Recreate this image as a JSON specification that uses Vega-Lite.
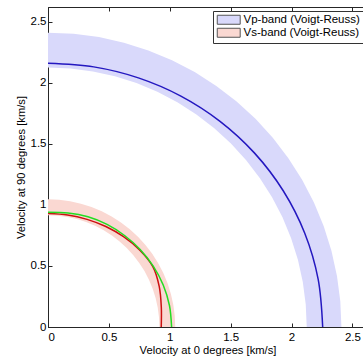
{
  "$schema": "https://vega.github.io/schema/vega-lite/v6.json",
  "width": 319,
  "height": 320,
  "autosize": {"type": "none"},
  "padding": {"left": 48, "top": 7, "right": 0, "bottom": 35},
  "config": {
    "font": "Liberation Sans",
    "view": {"stroke": "#262626", "strokeWidth": 1},
    "axis": {
      "grid": false,
      "domainColor": "#262626",
      "tickColor": "#262626",
      "tickSize": -4,
      "labelFontSize": 11.5,
      "labelColor": "#000000",
      "titleFontSize": 11.2,
      "titleFontWeight": "normal",
      "titleColor": "#000000"
    }
  },
  "datasets": {
    "bands": [
      {"s": "Vp-band (Voigt-Reuss)", "i": 0, "x": 2.41, "y": 0},
      {"s": "Vp-band (Voigt-Reuss)", "i": 1, "x": 2.4008, "y": 0.2101},
      {"s": "Vp-band (Voigt-Reuss)", "i": 2, "x": 2.3734, "y": 0.4185},
      {"s": "Vp-band (Voigt-Reuss)", "i": 3, "x": 2.3279, "y": 0.6238},
      {"s": "Vp-band (Voigt-Reuss)", "i": 4, "x": 2.2647, "y": 0.8243},
      {"s": "Vp-band (Voigt-Reuss)", "i": 5, "x": 2.1842, "y": 1.0185},
      {"s": "Vp-band (Voigt-Reuss)", "i": 6, "x": 2.0871, "y": 1.205},
      {"s": "Vp-band (Voigt-Reuss)", "i": 7, "x": 1.9742, "y": 1.3823},
      {"s": "Vp-band (Voigt-Reuss)", "i": 8, "x": 1.8462, "y": 1.5491},
      {"s": "Vp-band (Voigt-Reuss)", "i": 9, "x": 1.7041, "y": 1.7041},
      {"s": "Vp-band (Voigt-Reuss)", "i": 10, "x": 1.5491, "y": 1.8462},
      {"s": "Vp-band (Voigt-Reuss)", "i": 11, "x": 1.3823, "y": 1.9742},
      {"s": "Vp-band (Voigt-Reuss)", "i": 12, "x": 1.205, "y": 2.0871},
      {"s": "Vp-band (Voigt-Reuss)", "i": 13, "x": 1.0185, "y": 2.1842},
      {"s": "Vp-band (Voigt-Reuss)", "i": 14, "x": 0.8243, "y": 2.2647},
      {"s": "Vp-band (Voigt-Reuss)", "i": 15, "x": 0.6238, "y": 2.3279},
      {"s": "Vp-band (Voigt-Reuss)", "i": 16, "x": 0.4185, "y": 2.3734},
      {"s": "Vp-band (Voigt-Reuss)", "i": 17, "x": 0.2101, "y": 2.4008},
      {"s": "Vp-band (Voigt-Reuss)", "i": 18, "x": 0, "y": 2.41},
      {"s": "Vp-band (Voigt-Reuss)", "i": 19, "x": 0, "y": 2.125},
      {"s": "Vp-band (Voigt-Reuss)", "i": 20, "x": 0.1852, "y": 2.1169},
      {"s": "Vp-band (Voigt-Reuss)", "i": 21, "x": 0.369, "y": 2.0927},
      {"s": "Vp-band (Voigt-Reuss)", "i": 22, "x": 0.55, "y": 2.0526},
      {"s": "Vp-band (Voigt-Reuss)", "i": 23, "x": 0.7268, "y": 1.9968},
      {"s": "Vp-band (Voigt-Reuss)", "i": 24, "x": 0.8981, "y": 1.9259},
      {"s": "Vp-band (Voigt-Reuss)", "i": 25, "x": 1.0625, "y": 1.8403},
      {"s": "Vp-band (Voigt-Reuss)", "i": 26, "x": 1.2189, "y": 1.7407},
      {"s": "Vp-band (Voigt-Reuss)", "i": 27, "x": 1.3659, "y": 1.6278},
      {"s": "Vp-band (Voigt-Reuss)", "i": 28, "x": 1.5026, "y": 1.5026},
      {"s": "Vp-band (Voigt-Reuss)", "i": 29, "x": 1.6278, "y": 1.3659},
      {"s": "Vp-band (Voigt-Reuss)", "i": 30, "x": 1.7407, "y": 1.2189},
      {"s": "Vp-band (Voigt-Reuss)", "i": 31, "x": 1.8403, "y": 1.0625},
      {"s": "Vp-band (Voigt-Reuss)", "i": 32, "x": 1.9259, "y": 0.8981},
      {"s": "Vp-band (Voigt-Reuss)", "i": 33, "x": 1.9968, "y": 0.7268},
      {"s": "Vp-band (Voigt-Reuss)", "i": 34, "x": 2.0526, "y": 0.55},
      {"s": "Vp-band (Voigt-Reuss)", "i": 35, "x": 2.0927, "y": 0.369},
      {"s": "Vp-band (Voigt-Reuss)", "i": 36, "x": 2.1169, "y": 0.1852},
      {"s": "Vp-band (Voigt-Reuss)", "i": 37, "x": 2.125, "y": 0},
      {"s": "Vs-band (Voigt-Reuss)", "i": 0, "x": 1.045, "y": 0},
      {"s": "Vs-band (Voigt-Reuss)", "i": 1, "x": 1.041, "y": 0.0911},
      {"s": "Vs-band (Voigt-Reuss)", "i": 2, "x": 1.0291, "y": 0.1815},
      {"s": "Vs-band (Voigt-Reuss)", "i": 3, "x": 1.0094, "y": 0.2705},
      {"s": "Vs-band (Voigt-Reuss)", "i": 4, "x": 0.982, "y": 0.3574},
      {"s": "Vs-band (Voigt-Reuss)", "i": 5, "x": 0.9471, "y": 0.4416},
      {"s": "Vs-band (Voigt-Reuss)", "i": 6, "x": 0.905, "y": 0.5225},
      {"s": "Vs-band (Voigt-Reuss)", "i": 7, "x": 0.856, "y": 0.5994},
      {"s": "Vs-band (Voigt-Reuss)", "i": 8, "x": 0.8005, "y": 0.6717},
      {"s": "Vs-band (Voigt-Reuss)", "i": 9, "x": 0.7389, "y": 0.7389},
      {"s": "Vs-band (Voigt-Reuss)", "i": 10, "x": 0.6717, "y": 0.8005},
      {"s": "Vs-band (Voigt-Reuss)", "i": 11, "x": 0.5994, "y": 0.856},
      {"s": "Vs-band (Voigt-Reuss)", "i": 12, "x": 0.5225, "y": 0.905},
      {"s": "Vs-band (Voigt-Reuss)", "i": 13, "x": 0.4416, "y": 0.9471},
      {"s": "Vs-band (Voigt-Reuss)", "i": 14, "x": 0.3574, "y": 0.982},
      {"s": "Vs-band (Voigt-Reuss)", "i": 15, "x": 0.2705, "y": 1.0094},
      {"s": "Vs-band (Voigt-Reuss)", "i": 16, "x": 0.1815, "y": 1.0291},
      {"s": "Vs-band (Voigt-Reuss)", "i": 17, "x": 0.0911, "y": 1.041},
      {"s": "Vs-band (Voigt-Reuss)", "i": 18, "x": 0, "y": 1.045},
      {"s": "Vs-band (Voigt-Reuss)", "i": 19, "x": 0, "y": 0.915},
      {"s": "Vs-band (Voigt-Reuss)", "i": 20, "x": 0.0798, "y": 0.9115},
      {"s": "Vs-band (Voigt-Reuss)", "i": 21, "x": 0.1589, "y": 0.9011},
      {"s": "Vs-band (Voigt-Reuss)", "i": 22, "x": 0.2368, "y": 0.8838},
      {"s": "Vs-band (Voigt-Reuss)", "i": 23, "x": 0.3129, "y": 0.8598},
      {"s": "Vs-band (Voigt-Reuss)", "i": 24, "x": 0.3867, "y": 0.8293},
      {"s": "Vs-band (Voigt-Reuss)", "i": 25, "x": 0.4575, "y": 0.7924},
      {"s": "Vs-band (Voigt-Reuss)", "i": 26, "x": 0.5248, "y": 0.7495},
      {"s": "Vs-band (Voigt-Reuss)", "i": 27, "x": 0.5882, "y": 0.7009},
      {"s": "Vs-band (Voigt-Reuss)", "i": 28, "x": 0.647, "y": 0.647},
      {"s": "Vs-band (Voigt-Reuss)", "i": 29, "x": 0.7009, "y": 0.5882},
      {"s": "Vs-band (Voigt-Reuss)", "i": 30, "x": 0.7495, "y": 0.5248},
      {"s": "Vs-band (Voigt-Reuss)", "i": 31, "x": 0.7924, "y": 0.4575},
      {"s": "Vs-band (Voigt-Reuss)", "i": 32, "x": 0.8293, "y": 0.3867},
      {"s": "Vs-band (Voigt-Reuss)", "i": 33, "x": 0.8598, "y": 0.3129},
      {"s": "Vs-band (Voigt-Reuss)", "i": 34, "x": 0.8838, "y": 0.2368},
      {"s": "Vs-band (Voigt-Reuss)", "i": 35, "x": 0.9011, "y": 0.1589},
      {"s": "Vs-band (Voigt-Reuss)", "i": 36, "x": 0.9115, "y": 0.0798},
      {"s": "Vs-band (Voigt-Reuss)", "i": 37, "x": 0.915, "y": 0}
    ],
    "curves": [
      {"s": "Vp", "i": 0, "x": 2.256, "y": 0},
      {"s": "Vp", "i": 1, "x": 2.2187, "y": 0.3912},
      {"s": "Vp", "i": 2, "x": 2.1088, "y": 0.7675},
      {"s": "Vp", "i": 3, "x": 1.9319, "y": 1.1154},
      {"s": "Vp", "i": 4, "x": 1.6966, "y": 1.4236},
      {"s": "Vp", "i": 5, "x": 1.4129, "y": 1.6838},
      {"s": "Vp", "i": 6, "x": 1.0914, "y": 1.8904},
      {"s": "Vp", "i": 7, "x": 0.7424, "y": 2.0397},
      {"s": "Vp", "i": 8, "x": 0.3756, "y": 2.1298},
      {"s": "Vp", "i": 9, "x": 0, "y": 2.16},
      {"s": "Vs1", "i": 0, "x": 0.93, "y": 0},
      {"s": "Vs1", "i": 1, "x": 0.9306, "y": 0.1641},
      {"s": "Vs1", "i": 2, "x": 0.9134, "y": 0.3324},
      {"s": "Vs1", "i": 3, "x": 0.86, "y": 0.4965},
      {"s": "Vs1", "i": 4, "x": 0.7523, "y": 0.6312},
      {"s": "Vs1", "i": 5, "x": 0.6203, "y": 0.7392},
      {"s": "Vs1", "i": 6, "x": 0.475, "y": 0.8227},
      {"s": "Vs1", "i": 7, "x": 0.3208, "y": 0.8814},
      {"s": "Vs1", "i": 8, "x": 0.1618, "y": 0.9178},
      {"s": "Vs1", "i": 9, "x": 0, "y": 0.93},
      {"s": "Vs2", "i": 0, "x": 1.015, "y": 0},
      {"s": "Vs2", "i": 1, "x": 0.9976, "y": 0.1759},
      {"s": "Vs2", "i": 2, "x": 0.9463, "y": 0.3444},
      {"s": "Vs2", "i": 3, "x": 0.8643, "y": 0.499},
      {"s": "Vs2", "i": 4, "x": 0.7568, "y": 0.6351},
      {"s": "Vs2", "i": 5, "x": 0.6287, "y": 0.7492},
      {"s": "Vs2", "i": 6, "x": 0.485, "y": 0.84},
      {"s": "Vs2", "i": 7, "x": 0.3283, "y": 0.9021},
      {"s": "Vs2", "i": 8, "x": 0.1646, "y": 0.9336},
      {"s": "Vs2", "i": 9, "x": 0, "y": 0.94}
    ]
  },
  "layer": [
    {
      "data": {"name": "bands"},
      "mark": {"type": "line", "filled": true, "strokeWidth": 0, "opacity": 1},
      "encoding": {
        "x": {
          "field": "x", "type": "quantitative",
          "scale": {"domain": [0, 2.62], "nice": false, "zero": false},
          "axis": {"title": "Velocity at 0 degrees [km/s]", "values": [0, 0.5, 1, 1.5, 2, 2.5], "format": ".1~f", "labelPadding": 8, "titlePadding": 2}
        },
        "y": {
          "field": "y", "type": "quantitative",
          "scale": {"domain": [0, 2.62], "nice": false, "zero": false},
          "axis": {"title": "Velocity at 90 degrees [km/s]", "values": [0, 0.5, 1, 1.5, 2, 2.5], "format": ".1~f", "labelPadding": 6, "titlePadding": 4}
        },
        "order": {"field": "i", "type": "quantitative"},
        "color": {
          "field": "s", "type": "nominal",
          "scale": {"domain": ["Vp-band (Voigt-Reuss)", "Vs-band (Voigt-Reuss)"], "range": ["#d9d9fb", "#fad8d2"]},
          "legend": {
            "title": null,
            "orient": "top-right",
            "offset": 4,
            "padding": 3,
            "fillColor": "#ffffff",
            "strokeColor": "#333333",
            "symbolType": "M-1,-1L4.1,-1L4.1,1L-1,1Z",
            "symbolSize": 81,
            "symbolStrokeColor": "#555555",
            "symbolStrokeWidth": 1,
            "symbolOpacity": 1,
            "labelOffset": 16,
            "labelFontSize": 11.5,
            "labelColor": "#000000",
            "rowPadding": -2,
            "encode": {"symbols": {"update": {"stroke": {"value": "#555555"}, "strokeWidth": {"value": 1}}}}
          }
        }
      }
    },
    {
      "data": {"name": "curves"},
      "mark": {"type": "line", "strokeWidth": 1.5, "interpolate": "catmull-rom"},
      "encoding": {
        "x": {"field": "x", "type": "quantitative", "axis": {"orient": "top", "labels": false, "title": null, "domain": false, "values": [0, 0.5, 1, 1.5, 2, 2.5]}},
        "y": {"field": "y", "type": "quantitative"},
        "order": {"field": "i", "type": "quantitative"},
        "color": {
          "field": "s", "type": "nominal",
          "scale": {"domain": ["Vp", "Vs1", "Vs2"], "range": ["#2418c0", "#cc1010", "#22dd22"]},
          "legend": null
        }
      }
    }
  ],
  "resolve": {"scale": {"color": "independent"}, "axis": {"x": "independent"}}
}
